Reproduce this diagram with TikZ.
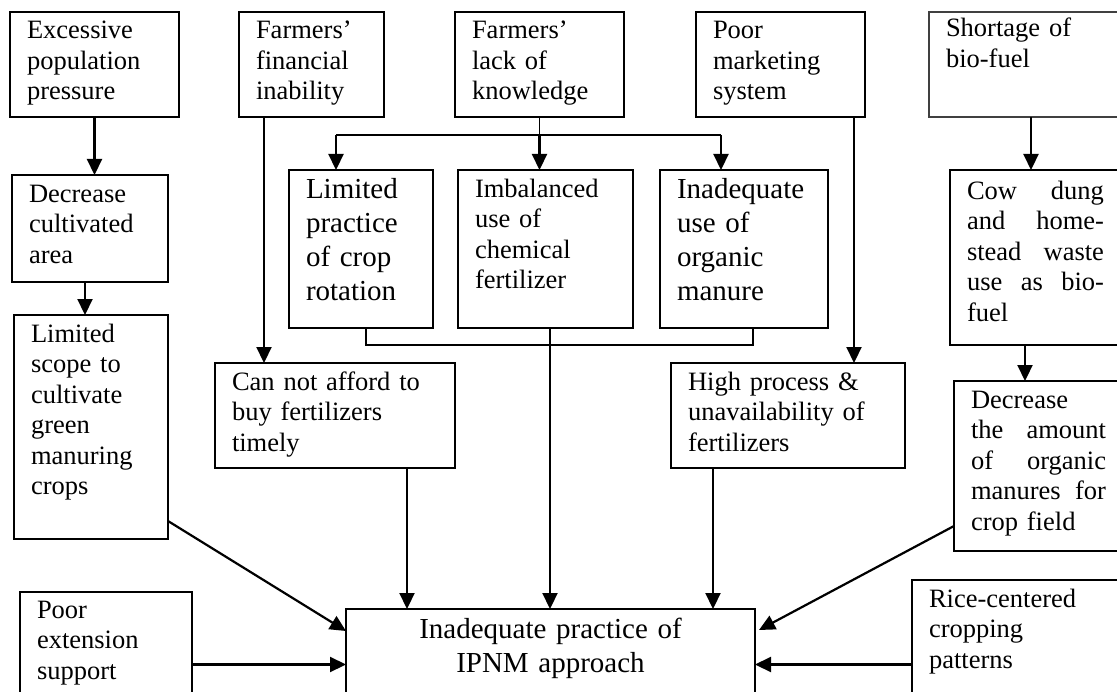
\documentclass[tikz,border=0pt]{standalone}
\usepackage{fontspec}
\setmainfont{Liberation Serif}
\usetikzlibrary{arrows.meta}

\newcommand\normaltxt{\fontsize{26.5bp}{30.5bp}\selectfont}
\newcommand\bigtxt{\fontsize{29bp}{34bp}\selectfont}

\tikzset{
	cbox/.style={draw, line width=2.2bp, anchor=north west, outer sep=0pt,
		inner xsep=17bp, inner ysep=0pt, align=left, text height=27bp, font=\normaltxt},
	bigbox/.style={cbox, text height=28bp, font=\bigtxt},
	arr/.style={line width=2.2bp, -{Triangle[length=16bp,width=15bp]}},
	link/.style={line width=1.3bp},
}

\begin{document}
\begin{tikzpicture}[x=1bp,y=-1bp]
		\useasboundingbox (0,0) rectangle (1117,692);
		\clip (0,0) rectangle (1117,692);
		
		% top row
		\node[cbox, text width=135bp, text depth=78bp] (exc) at (10,12) {Excessive\\population\\pressure};
		\node[cbox, text width=111bp, text depth=78bp] (fin) at (239,12) {Farmers’\\financial\\inability};
		\node[cbox, text width=135bp, text depth=78bp] (lack) at (455,12) {Farmers’\\lack of\\knowledge};
		\node[cbox, text width=135bp, text depth=78bp] (mkt) at (696,12) {Poor\\marketing\\system};
		\node[cbox, draw=black!75, line width=1.1bp, text width=177bp, text depth=80bp, text height=25bp] (bio) at (929,12) {Shortage of\\bio-fuel};
		
		% second row
		\node[cbox, text width=122bp, text depth=80bp] (dec) at (12,175) {Decrease\\cultivated\\area};
		\node[bigbox, text width=110bp, text depth=130bp] (rot) at (289,170) {Limited\\practice\\of crop\\rotation};
		\node[cbox, text width=141bp, text depth=131bp] (imb) at (458,170) {Imbalanced\\use of\\chemical\\fertilizer};
		\node[bigbox, text width=134bp, text depth=130bp] (org) at (660,170) {Inadequate\\use of\\organic\\manure};
		\node[cbox, text width=137bp, text height=29bp, text depth=146bp] (cow) at (950,170) {Cow\hfill dung\\and\hfill home-\\stead\hfill waste\\use\hfill as\hfill bio-\\fuel};
		
		% third row
		\node[cbox, text width=120bp, text depth=197bp] (scope) at (14,315) {Limited\\scope to\\cultivate\\green\\manuring\\crops};
		\node[cbox, text width=206bp, text depth=78bp] (afford) at (215,363) {Can not afford to\\buy fertilizers\\timely};
		\node[cbox, text width=200bp, text depth=78bp] (price) at (671,363) {High process \&\\unavailability of\\fertilizers};
		\node[cbox, text width=135bp, text depth=143bp] (amt) at (954,381) {Decrease\\the\hfill amount\\of\hfill organic\\manures\hfill for\\crop field};
		
		% bottom row
		\node[cbox, text width=138bp, text height=26bp, text depth=102bp] (ext) at (20,592) {Poor\\extension\\support};
		\node[cbox, font=\bigtxt, align=center, text width=375bp, text height=29bp, text depth=82bp] (ipnm) at (346,609) {Inadequate practice of\\IPNM approach};
		\node[cbox, text width=194bp, text depth=113bp] (rice) at (912,580) {Rice-centered\\cropping\\patterns};
		
		% where the connectors leave their boxes
		\coordinate (decout) at ([xshift=-5bp]dec.south);
		\coordinate (finout) at ([xshift=25bp]fin.south west);
		\coordinate (mktout) at ([xshift=-11bp]mkt.south east);
		\coordinate (bioout) at ([xshift=102bp]bio.south west);
		\coordinate (cowout) at ([xshift=75bp]cow.south west);
		\coordinate (affout) at ([xshift=-48bp]afford.south east);
		\coordinate (priout) at ([xshift=42bp]price.south west);
		\coordinate (kl) at (336,135);
		\coordinate (kr) at (721,135);
		\coordinate (jl) at (366,345);
		\coordinate (jm) at (550,345);
		\coordinate (jr) at (753,345);
		
		\draw[arr] (exc.south) -- (exc.south |- dec.north);
		\draw[arr] (decout) -- (decout |- scope.north);
		\draw[arr] (finout) -- (finout |- afford.north);
		\draw[arr] (mktout) -- (mktout |- price.north);
		\draw[arr] (bioout) -- (bioout |- cow.north);
		\draw[arr] (cowout) -- (cowout |- amt.north);
		
		% knowledge splits into three
		\draw[link] (lack.south) -- (lack.south |- kl);
		\draw[line width=2.2bp] (kl) -- (kr);
		\draw[arr] (kl) -- (kl |- rot.north);
		\draw[arr] (lack.south |- kl) -- (lack.south |- imb.north);
		\draw[arr] (kr) -- (kr |- org.north);
		
		% and joins again
		\draw[link] (jl |- rot.south) -- (jl) -- (jr) -- (jr |- org.south);
		\draw[link] (imb.south -| jm) -- (jm);
		\draw[arr] (jm) -- (jm |- ipnm.north);
		
		% into the core problem
		\draw[arr] ([yshift=18bp]scope.south east) -- ([yshift=-22bp]ipnm.north west);
		\draw[arr] (affout) -- (affout |- ipnm.north);
		\draw[arr] (priout) -- (priout |- ipnm.north);
		\draw[arr] ([yshift=25bp]amt.south west) -- ([xshift=4bp,yshift=-21bp]ipnm.north east);
		\draw[arr] (ext.east |- ipnm.west) -- (ipnm.west);
		\draw[arr] (rice.west |- ipnm.east) -- (ipnm.east);
	\end{tikzpicture}
\end{document}
